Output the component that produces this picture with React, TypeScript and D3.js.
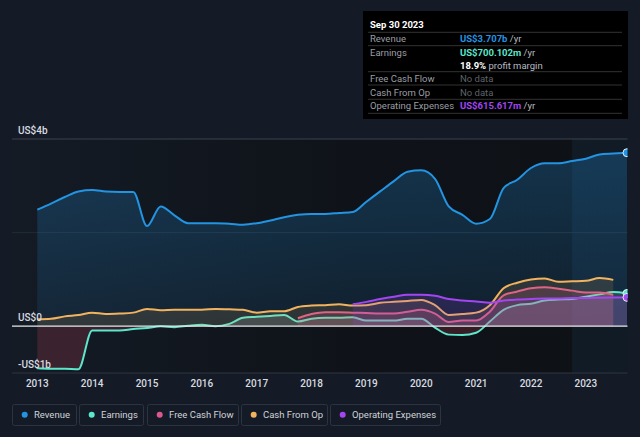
import * as React from "react";
import * as d3 from "d3";

const WIDTH = 640;
const HEIGHT = 437;

// quarterly trailing-twelve-month figures, US$ billions
const revenueStart = 2013;
const revenue = [
  2.49, 2.62, 2.76, 2.88, 2.91, 2.88, 2.87, 2.87, 2.14, 2.56, 2.37, 2.2,
  2.2, 2.2, 2.19, 2.17, 2.2, 2.26, 2.33, 2.38, 2.4, 2.4, 2.42, 2.44,
  2.66, 2.88, 3.1, 3.3, 3.33, 3.15, 2.56, 2.38, 2.19, 2.29, 2.95, 3.13,
  3.38, 3.48, 3.48, 3.53, 3.58, 3.67, 3.69, 3.707,
];

const earningsStart = 2013;
const earnings = [
  -0.9, -0.91, -0.91, -0.92, -0.09, -0.09, -0.09, -0.06, -0.04, 0.0, -0.02, 0.01,
  0.03, 0.0, 0.05, 0.18, 0.2, 0.22, 0.24, 0.1, 0.16, 0.18, 0.18, 0.19,
  0.12, 0.12, 0.12, 0.16, 0.16, -0.03, -0.18, -0.19, -0.14, 0.1, 0.35, 0.45,
  0.48, 0.55, 0.57, 0.58, 0.63, 0.68, 0.73, 0.7,
];

const fcfStart = 2017.75;
const freeCashFlow = [
  0.17, 0.26, 0.3, 0.3, 0.29, 0.28, 0.27, 0.27, 0.31, 0.35, 0.27, 0.09,
  0.12, 0.12, 0.31, 0.66, 0.74, 0.81, 0.83, 0.8, 0.76, 0.72, 0.72, 0.67,
];

const cfoStart = 2013;
const cashFromOp = [
  0.15, 0.16, 0.21, 0.24, 0.29, 0.26, 0.27, 0.29, 0.37, 0.34, 0.35, 0.35,
  0.35, 0.37, 0.36, 0.35, 0.29, 0.32, 0.32, 0.41, 0.44, 0.45, 0.47, 0.44,
  0.45, 0.5, 0.52, 0.54, 0.56, 0.45, 0.24, 0.26, 0.29, 0.45, 0.81, 0.93,
  1.0, 1.02, 0.95, 0.96, 0.97, 1.03, 0.99,
];

const opexStart = 2018.75;
const operatingExpenses = [
  0.47, 0.52, 0.58, 0.63, 0.67, 0.67, 0.65, 0.58, 0.55, 0.53, 0.5, 0.55,
  0.57, 0.58, 0.59, 0.59, 0.6, 0.6, 0.61, 0.615, 0.616,
];

const yearTicks = [2013, 2014, 2015, 2016, 2017, 2018, 2019, 2020, 2021, 2022, 2023];
const yTickLabels = [
  { value: 4, label: "US$4b" },
  { value: 0, label: "US$0" },
  { value: -1, label: "-US$1b" },
];

const legendItems = [
  { name: "Revenue", color: "#2394e2", x: 12, w: 64 },
  { name: "Earnings", color: "#5ce6cb", x: 79, w: 64 },
  { name: "Free Cash Flow", color: "#d9598c", x: 147, w: 91 },
  { name: "Cash From Op", color: "#f2b35f", x: 241, w: 86 },
  { name: "Operating Expenses", color: "#a246f2", x: 330, w: 110 },
];

interface Pt {
  t: number;
  v: number;
}

const toPoints = (start: number, values: number[]): Pt[] =>
  values.map((v, i) => ({ t: start + i * 0.25, v }));

const FONT = "Roboto, 'Noto Sans', sans-serif";

export default function App() {
  const x = d3.scaleLinear().domain([2013, 2023.75]).range([37.3, 627]);
  const y = d3.scaleLinear().domain([-1, 4]).range([373, 139]);

  const line = d3
    .line<Pt>()
    .x((d) => x(d.t))
    .y((d) => y(d.v))
    .curve(d3.curveMonotoneX);
  const area = d3
    .area<Pt>()
    .x((d) => x(d.t))
    .y0(y(0))
    .y1((d) => y(d.v))
    .curve(d3.curveMonotoneX);

  const rev = toPoints(revenueStart, revenue);
  const earn = toPoints(earningsStart, earnings);
  const fcf = toPoints(fcfStart, freeCashFlow);
  const cfo = toPoints(cfoStart, cashFromOp);
  const opex = toPoints(opexStart, operatingExpenses);

  const plotLeft = 12;
  const plotRight = 627.5;
  const top = y(4);
  const bottom = y(-1);
  const zero = y(0);
  const pastStart = x(2022.75);

  const last = (p: Pt[]) => p[p.length - 1];

  return (
    <svg
      width={WIDTH}
      height={HEIGHT}
      style={{ position: "fixed", left: 0, top: 0, display: "block" }}
      fontFamily={FONT}
    >
      <defs>
        <linearGradient id="plotBg" x1="0" x2="1" y1="0" y2="0">
          <stop offset="0" stopColor="#141b25" />
          <stop offset="0.55" stopColor="#0f1319" />
          <stop offset="1" stopColor="#0e1116" />
        </linearGradient>
        <linearGradient id="revFill" x1="0" x2="0" y1="0" y2="1">
          <stop offset="0" stopColor="#2394e2" stopOpacity={0.26} />
          <stop offset="1" stopColor="#2394e2" stopOpacity={0.1} />
        </linearGradient>
        <clipPath id="abovePos">
          <rect x={0} y={0} width={WIDTH} height={zero} />
        </clipPath>
        <clipPath id="belowNeg">
          <rect x={0} y={zero} width={WIDTH} height={HEIGHT - zero} />
        </clipPath>
        <clipPath id="plotClip">
          <rect x={plotLeft} y={top - 10} width={plotRight - plotLeft} height={bottom - top + 20} />
        </clipPath>
      </defs>

      <rect width={WIDTH} height={HEIGHT} fill="#151b26" />
      <rect x={plotLeft} y={top} width={plotRight - plotLeft} height={bottom - top} fill="url(#plotBg)" />
      <rect x={pastStart} y={top} width={plotRight - pastStart} height={bottom - top} fill="#2a6aa0" fillOpacity={0.12} />

      {/* grid */}
      <line x1={plotLeft} x2={plotRight} y1={top} y2={top} stroke="#3a4250" strokeWidth={1} />
      <line x1={plotLeft} x2={plotRight} y1={y(2)} y2={y(2)} stroke="#2a3442" strokeWidth={1} strokeOpacity={0.6} />
      <line x1={plotLeft} x2={plotRight} y1={bottom} y2={bottom} stroke="#2e3440" strokeWidth={1} />

      <g clipPath="url(#plotClip)">
        {/* revenue */}
        <path d={area(rev) ?? ""} fill="url(#revFill)" />
        <path d={line(rev) ?? ""} fill="none" stroke="#2394e2" strokeWidth={2} />

        {/* earnings */}
        <path d={area(earn) ?? ""} fill="#b8c8c8" fillOpacity={0.18} clipPath="url(#abovePos)" />
        <path d={area(earn) ?? ""} fill="#d8475e" fillOpacity={0.2} clipPath="url(#belowNeg)" />
        <path d={line(earn) ?? ""} fill="none" stroke="#5ce6cb" strokeWidth={2} />

        {/* free cash flow */}
        <path d={area(fcf) ?? ""} fill="#d9598c" fillOpacity={0.18} />
        <path d={line(fcf) ?? ""} fill="none" stroke="#d9598c" strokeWidth={2} />

        {/* cash from operations */}
        <path d={area(cfo) ?? ""} fill="#f2b35f" fillOpacity={0.13} />
        <path d={line(cfo) ?? ""} fill="none" stroke="#f2b35f" strokeWidth={2} />

        {/* operating expenses */}
        <path d={area(opex) ?? ""} fill="#a246f2" fillOpacity={0.16} />
        <path d={line(opex) ?? ""} fill="none" stroke="#a246f2" strokeWidth={2} />
      </g>

      <line x1={plotLeft} x2={plotRight} y1={zero} y2={zero} stroke="#e8e8e8" strokeWidth={1.2} />

      {/* end markers, cut at the plot edge */}
      <g clipPath="url(#plotClip)">
        {[
          { p: last(rev), c: "#2394e2" },
          { p: last(earn), c: "#5ce6cb" },
          { p: last(opex), c: "#a246f2" },
        ].map((m, i) => (
          <circle key={i} cx={x(m.p.t)} cy={y(m.p.v)} r={4} fill={m.c} stroke="#e6f0f6" strokeWidth={1} />
        ))}
      </g>

      {/* y labels */}
      {yTickLabels.map((d) => (
        <text
          key={d.label}
          x={18}
          y={y(d.value) - 5}
          fontSize={10}
          fontWeight={500}
          fill="#d8dbe0"
        >
          {d.label}
        </text>
      ))}

      {/* x labels */}
      {yearTicks.map((t) => (
        <text key={t} x={x(t)} y={387} fontSize={10} fontWeight={500} fill="#d8dbe0" textAnchor="middle">
          {t}
        </text>
      ))}

      {/* tooltip */}
      <g>
        <rect x={363} y={11} width={265} height={108} fill="#000000" />
        <text x={370} y={28} fontSize={9.5} fontWeight={700} fill="#ffffff">
          Sep 30 2023
        </text>
        {[32.3, 45.7, 71.7, 85, 99.3, 113.3].map((ly) => (
          <line key={ly} x1={368} x2={622} y1={ly} y2={ly} stroke="#333" strokeWidth={1} />
        ))}
        <g fontSize={9.5} fill="#9a9ea4">
          <text x={370} y={42}>Revenue</text>
          <text x={370} y={55.5}>Earnings</text>
          <text x={370} y={81.5}>Free Cash Flow</text>
          <text x={370} y={95.5}>Cash From Op</text>
          <text x={370} y={108.5}>Operating Expenses</text>
        </g>
        <g fontSize={9.5}>
          <text x={460} y={42}>
            <tspan fill="#2394e2" fontWeight={700}>US$3.707b</tspan>
            <tspan fill="#b8bcc2"> /yr</tspan>
          </text>
          <text x={460} y={55.5}>
            <tspan fill="#5ce6cb" fontWeight={700}>US$700.102m</tspan>
            <tspan fill="#b8bcc2"> /yr</tspan>
          </text>
          <text x={460} y={68.5}>
            <tspan fill="#ffffff" fontWeight={700}>18.9%</tspan>
            <tspan fill="#b8bcc2"> profit margin</tspan>
          </text>
          <text x={460} y={81.5} fill="#5f6368">No data</text>
          <text x={460} y={95.5} fill="#5f6368">No data</text>
          <text x={460} y={108.5}>
            <tspan fill="#a246f2" fontWeight={700}>US$615.617m</tspan>
            <tspan fill="#b8bcc2"> /yr</tspan>
          </text>
        </g>
      </g>

      {/* legend */}
      {legendItems.map((d) => (
        <g key={d.name}>
          <rect x={d.x + 0.5} y={404.5} width={d.w} height={21} rx={2} fill="#151b26" stroke="#2c3441" />
          <circle cx={d.x + 12.7} cy={414.7} r={3} fill={d.color} />
          <text x={d.x + 22} y={418} fontSize={9.5} fill="#cfd3d8">
            {d.name}
          </text>
        </g>
      ))}
    </svg>
  );
}
